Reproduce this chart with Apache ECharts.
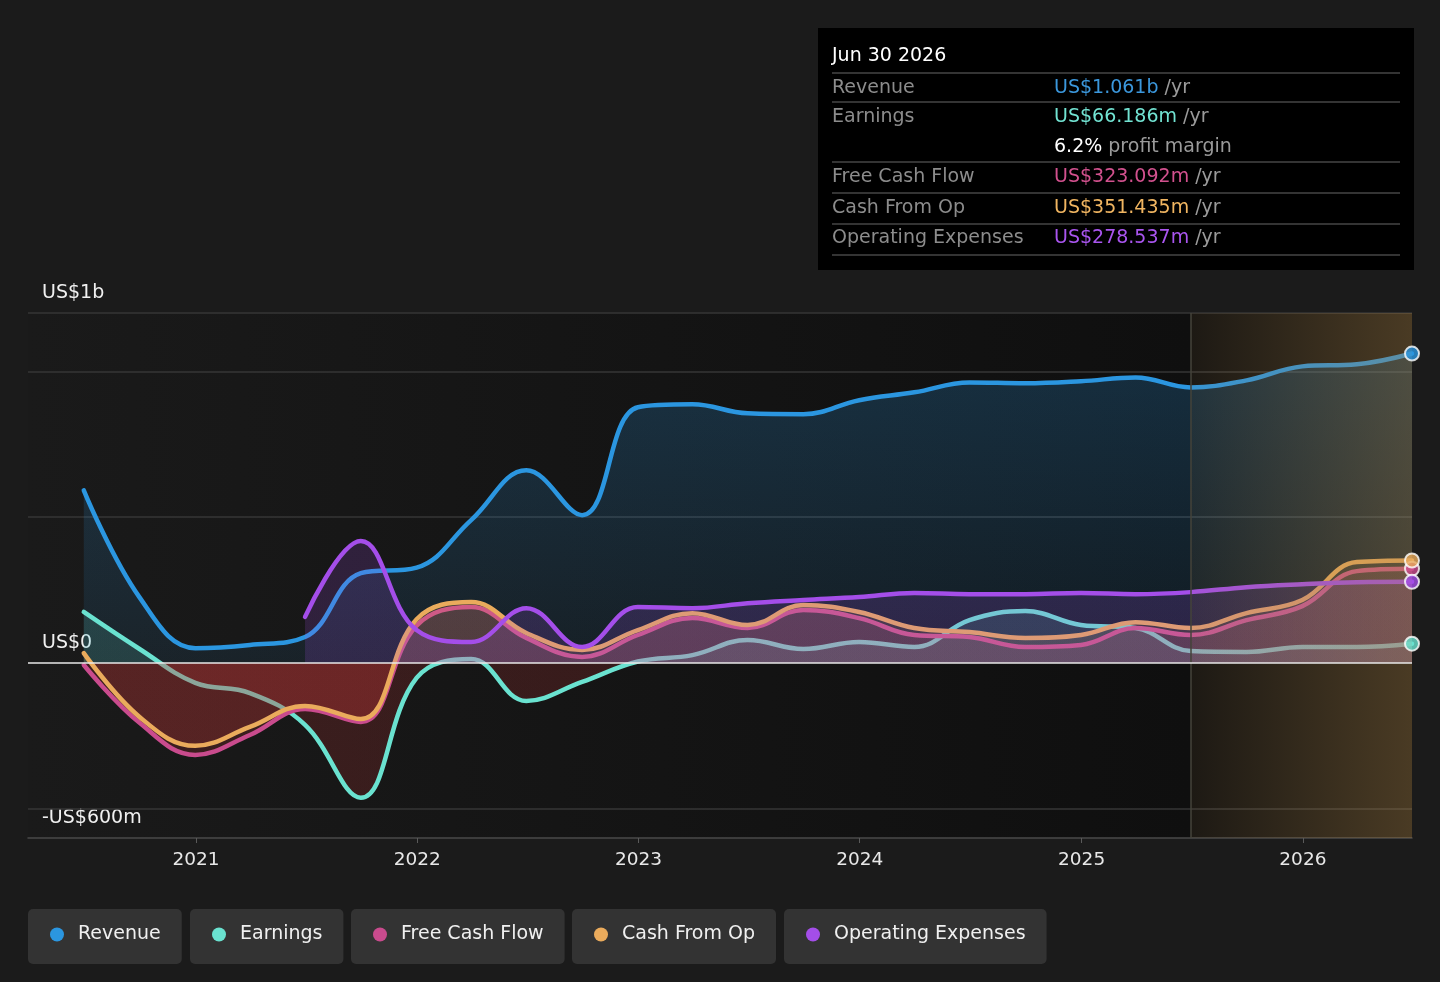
<!DOCTYPE html>
<html lang="en">
<head>
<meta charset="UTF-8">
<title>Revenue, earnings and cash flow</title>
<script src="https://cdn.jsdelivr.net/npm/echarts@6/dist/echarts.min.js"></script>
<style>
    html, body { margin: 0; padding: 0; background: #1b1b1b; }
    #main { width: 1440px; height: 982px; }
</style>
</head>
<body>
<div id="main"></div>
<script>
// quarter ends, values in US$ millions
var dates = ['2020-06-30', '2020-09-30', '2020-12-31', '2021-03-31', '2021-06-30', '2021-09-30', '2021-12-31',
    '2022-03-31', '2022-06-30', '2022-09-30', '2022-12-31', '2023-03-31', '2023-06-30', '2023-09-30', '2023-12-31',
    '2024-03-31', '2024-06-30', '2024-09-30', '2024-12-31', '2025-03-31', '2025-06-30', '2025-09-30', '2025-12-31',
    '2026-03-31', '2026-06-30'];
var revenue  = [592, 225, 51, 62, 89, 308, 327, 490, 661, 507, 877, 887, 856, 853, 901, 928, 962, 959, 966, 979, 945, 969, 1017, 1024, 1061];
var earnings = [175, 48, -68, -103, -212, -462, -51, 14, -130, -65, 5, 27, 79, 48, 72, 55, 147, 178, 130, 120, 41, 38, 55, 55, 66.186];
var freeCash = [-7, -205, -315, -247, -158, -202, 128, 192, 86, 21, 96, 154, 120, 182, 154, 96, 89, 55, 62, 120, 96, 147, 195, 315, 323.092];
var cashOp   = [34, -185, -284, -219, -147, -192, 150, 209, 103, 45, 113, 171, 130, 199, 175, 120, 106, 86, 96, 140, 120, 171, 216, 346, 351.435];
var opex     = [null, null, null, null, 158, 418, 113, 72, 188, 55, 192, 188, 205, 216, 226, 240, 236, 236, 240, 236, 243, 260, 270, 277, 278.537];

var names  = ['Revenue', 'Earnings', 'Free Cash Flow', 'Cash From Op', 'Operating Expenses'];
var colors = ['#2b96e0', '#6ae2d0', '#c94b8d', '#eaab5c', '#a44ee9'];
var valueColors = ['#3b97dc', '#72e3d2', '#d2518e', '#f0b561', '#a955ef'];

var axisStart = '2020-03-30';
var forecastStart = '2025-06-30';
var yMin = -600, yMax = 1200;
var yTickValues = [-600, 0, 1200];
var yTickLabels = ['-US$600m', 'US$0', 'US$1b'];
var gridValues = [-500, 500, 1000, 1200];
var years = [2021, 2022, 2023, 2024, 2025, 2026];

function ts(s) {
    var p = s.split('-');
    return new Date(+p[0], +p[1] - 1, +p[2]).getTime();
}
var yearTicks = years.map(function (y) { return new Date(y, 0, 1).getTime(); });

var allSeries = [revenue, earnings, freeCash, cashOp, opex];
var last = dates.length - 1;
var lastDate = dates[last];

function pairs(arr) {
    return dates.map(function (d, i) { return [ts(d), arr[i]]; });
}
function money(v) {
    if (v >= 1000) return 'US$' + (v / 1000).toFixed(3) + 'b';
    return 'US$' + v.toFixed(3) + 'm';
}
var FONT = '"DejaVu Sans", sans-serif';

// tooltip-like box (top right)
var months = ['Jan', 'Feb', 'Mar', 'Apr', 'May', 'Jun', 'Jul', 'Aug', 'Sep', 'Oct', 'Nov', 'Dec'];
var ld = lastDate.split('-');
var tipTitle = months[+ld[1] - 1] + ' ' + (+ld[2]) + ' ' + ld[0];
var margin = (earnings[last] / revenue[last] * 100).toFixed(1) + '%';

var tipChildren = [
    { type: 'rect', shape: { x: 0, y: 0, width: 596, height: 242 }, style: { fill: '#000' } },
    { type: 'text', x: 14, y: 28, style: { text: tipTitle, fill: '#fff', font: '19px ' + FONT, verticalAlign: 'middle' } }
];
[45, 74, 134, 165, 196, 227].forEach(function (y) {
    tipChildren.push({ type: 'line', shape: { x1: 14, y1: y, x2: 582, y2: y }, style: { stroke: '#464646', lineWidth: 1.5 } });
});
var rowY = [60, 89, 149, 180, 210];
names.forEach(function (n, i) {
    tipChildren.push({ type: 'text', x: 14, y: rowY[i], style: { text: n, fill: '#8c8c8c', font: '19px ' + FONT, verticalAlign: 'middle' } });
    tipChildren.push({ type: 'text', x: 236, y: rowY[i], style: {
        text: '{v|' + money(allSeries[i][last]) + '} {u|/yr}', font: '19px ' + FONT, verticalAlign: 'middle',
        rich: { v: { fill: valueColors[i], font: '19px ' + FONT }, u: { fill: '#9a9a9a', font: '19px ' + FONT } }
    } });
});
tipChildren.push({ type: 'text', x: 236, y: 119, style: {
    text: '{w|' + margin + '} {u|profit margin}', font: '19px ' + FONT, verticalAlign: 'middle',
    rich: { w: { fill: '#fff', font: '19px ' + FONT }, u: { fill: '#9a9a9a', font: '19px ' + FONT } }
} });

// legends, one box each
var legendLefts = [28, 190, 351, 572, 784];
var legends = names.map(function (n, i) {
    return {
        data: [n], left: legendLefts[i], top: 909, icon: 'circle',
        itemWidth: 32, itemHeight: 14, padding: [15, 21, 19, 22],
        backgroundColor: '#333333', borderRadius: 5,
        textStyle: { color: '#f0f0f0', fontSize: 19, fontFamily: FONT, lineHeight: 21 }
    };
});

function lineSeries(i, arr) {
    return {
        name: names[i], type: 'line', data: pairs(arr), smooth: 0.4, symbol: 'none',
        color: colors[i], silent: true, z: 2 + i,
        lineStyle: { color: colors[i], width: 4.5, cap: 'round', join: 'round' },
        areaStyle: { color: 'rgba(0,0,0,0)' },
        emphasis: { disabled: true }
    };
}

var series = allSeries.map(function (arr, i) { return lineSeries(i, arr); });
series[0].markLine = {
    silent: true, symbol: 'none', z: 1, label: { show: false },
    lineStyle: { color: '#363636', width: 1.5, type: 'solid' },
    data: gridValues.map(function (v) { return { yAxis: v }; })
};
// forecast shading on top of lines
series.push({
    type: 'line', data: [], silent: true, z: 10,
    markArea: {
        silent: true, z: 10,
        itemStyle: { color: { type: 'linear', x: 0, y: 0, x2: 1, y2: 0, colorStops: [
            { offset: 0, color: 'rgba(170,130,70,0.09)' }, { offset: 1, color: 'rgba(170,130,70,0.38)' }] } },
        data: [[{ xAxis: ts(forecastStart) }, { xAxis: ts(lastDate) }]]
    },
    markLine: {
        silent: true, symbol: 'none', z: 10, label: { show: false },
        lineStyle: { color: '#45433a', width: 1.5, type: 'solid' },
        data: [{ xAxis: ts(forecastStart) }]
    }
});
// end dots and zero line
series.push({
    type: 'scatter', silent: true, z: 12, symbolSize: 14,
    data: allSeries.map(function (arr, i) {
        return { value: [ts(lastDate), arr[last]], itemStyle: { color: colors[i], borderColor: '#fff', borderWidth: 2 } };
    }),
    markLine: {
        silent: true, symbol: 'none', z: 11, label: { show: false },
        lineStyle: { color: '#e8e8e8', width: 1.5, type: 'solid' },
        data: [{ yAxis: 0 }]
    }
});

var option = {
    animation: false,
    backgroundColor: '#1b1b1b',
    textStyle: { fontFamily: FONT },
    grid: {
        left: 28, right: 28, top: 313, bottom: 144, show: true, borderWidth: 0,
        backgroundColor: { type: 'linear', x: 0, y: 0, x2: 1, y2: 0, colorStops: [
            { offset: 0, color: '#1a1a1a' }, { offset: 0.84, color: '#0f0f0f' }, { offset: 1, color: '#0f0f0f' }] }
    },
    legend: legends,
    xAxis: {
        type: 'value', min: ts(axisStart), max: ts(lastDate),
        axisLine: { show: true, onZero: false, lineStyle: { color: '#4a4a4a', width: 1.5 } },
        axisTick: { show: true, customValues: yearTicks, length: 5, lineStyle: { color: '#5a5a5a' } },
        axisLabel: { customValues: yearTicks, color: '#e8e8e8', fontSize: 18.5, fontFamily: FONT, margin: 13,
            formatter: function (v) { return String(new Date(v).getFullYear()); } },
        splitLine: { show: false }
    },
    yAxis: {
        type: 'value', min: yMin, max: yMax,
        splitLine: { show: false }, axisLine: { show: false }, axisTick: { show: false },
        axisLabel: {
            inside: true, customValues: yTickValues, margin: 14, align: 'left',
            verticalAlign: 'bottom', padding: [0, 0, 10, 0],
            color: '#f0f0f0', fontSize: 19, fontFamily: FONT,
            formatter: function (v) { return yTickLabels[yTickValues.indexOf(v)]; }
        }
    },
    graphic: [{ type: 'group', left: 818, top: 28, children: tipChildren }],
    series: series
};

var chart = echarts.init(document.getElementById('main'));
chart.setOption(option);

// area fills: series colour above zero, red below (global gradient on axis pixels)
var yTop = chart.convertToPixel({ yAxisIndex: 0 }, yMax);
var yZero = chart.convertToPixel({ yAxisIndex: 0 }, 0);
var yBot = chart.convertToPixel({ yAxisIndex: 0 }, yMin);
var f = (yZero - yTop) / (yBot - yTop);
var negFill = 'rgba(200,55,55,0.28)';
var posTop  = ['rgba(43,150,224,0.36)', 'rgba(101,224,207,0.22)', 'rgba(201,75,141,0.24)', 'rgba(234,171,92,0.22)', 'rgba(164,78,233,0.25)'];
var posZero = ['rgba(43,150,224,0.12)', 'rgba(101,224,207,0.22)', 'rgba(201,75,141,0.24)', 'rgba(234,171,92,0.22)', 'rgba(164,78,233,0.25)'];
chart.setOption({
    series: names.map(function (n, i) {
        return { areaStyle: { color: { type: 'linear', x: 0, y: yTop, x2: 0, y2: yBot, global: true, colorStops: [
            { offset: 0, color: posTop[i] }, { offset: f, color: posZero[i] },
            { offset: f, color: negFill }, { offset: 1, color: negFill }] } } };
    })
});
</script>
</body>
</html>
